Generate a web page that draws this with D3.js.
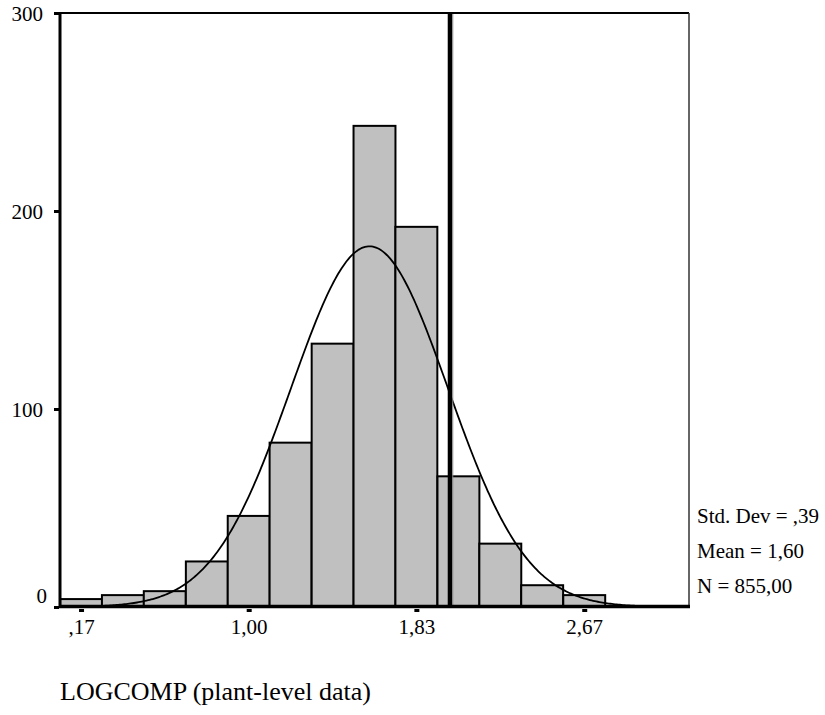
<!DOCTYPE html>
<html>
<head>
<meta charset="utf-8">
<script src="https://cdn.jsdelivr.net/npm/d3@7"></script>
<style>
  html, body { margin: 0; padding: 0; background: #fff; }
  svg { display: block; }
  text { font-family: "Liberation Serif", "Times New Roman", serif; fill: #000; }
</style>
</head>
<body>
<svg id="chart" width="825" height="715"></svg>
<script>
// ---- data ----
const binCenters = [0.167, 0.375, 0.583, 0.792, 1.000, 1.208, 1.417, 1.625, 1.833, 2.042, 2.250, 2.458, 2.667, 2.875, 3.083];
const counts     = [4, 6, 8, 23, 46, 83, 133, 243, 192, 66, 32, 11, 6, 0, 0];
const binWidth = 0.2083;
const xTickValues = [0.167, 1.000, 1.833, 2.667];
const xTickLabels = [",17", "1,00", "1,83", "2,67"];
const yTickValues = [0, 100, 200, 300];
const yTickLabels = ["0", "100", "200", "300"];
const statLabels = ["Std. Dev = ,39", "Mean = 1,60", "N = 855,00"];
const stats = { mean: 1.60, sd: 0.39, n: 855 };
const refLine = [2.0];
const axisTitle = "LOGCOMP (plant-level data)";

// ---- scales ----
const svg = d3.select("#chart");
const x = d3.scaleLinear().domain([0.0625, 3.1875]).range([60, 689]);
const y = d3.scaleLinear().domain([0, 300]).range([607, 13]);

// bars
svg.append("g").selectAll("rect").data(counts).join("rect")
  .attr("x", (d, i) => x(binCenters[i] - binWidth / 2))
  .attr("width", (d, i) => x(binCenters[i] + binWidth / 2) - x(binCenters[i] - binWidth / 2))
  .attr("y", d => y(d))
  .attr("height", d => y(0) - y(d))
  .attr("fill", "#c0c0c0")
  .attr("stroke", "#000")
  .attr("stroke-width", 2)
  .attr("display", d => d > 0 ? null : "none");

// normal curve
const xs = d3.range(0, 401).map(i => x.domain()[0] + (x.domain()[1] - x.domain()[0]) * i / 400);
const dens = v => stats.n * binWidth / (stats.sd * Math.sqrt(2 * Math.PI)) * Math.exp(-0.5 * Math.pow((v - stats.mean) / stats.sd, 2));
svg.append("path")
  .datum(xs)
  .attr("fill", "none")
  .attr("stroke", "#000")
  .attr("stroke-width", 1.8)
  .attr("d", d3.line().x(d => x(d)).y(d => y(dens(d))));

// reference line
svg.append("g").selectAll("line").data(refLine).join("line")
  .attr("x1", d => x(d)).attr("x2", d => x(d))
  .attr("y1", y(300)).attr("y2", y(0))
  .attr("stroke", "#000").attr("stroke-width", 4.5);
svg.append("g").selectAll("line").data(refLine).join("line")
  .attr("x1", d => x(d) + 2.8).attr("x2", d => x(d) + 2.8)
  .attr("y1", y(300)).attr("y2", y(0))
  .attr("stroke", "#888").attr("stroke-width", 1);

// frame
svg.append("line").attr("x1", 60).attr("x2", 689).attr("y1", 13).attr("y2", 13).attr("stroke", "#000").attr("stroke-width", 2);
svg.append("line").attr("x1", 689).attr("x2", 689).attr("y1", 13).attr("y2", 607).attr("stroke", "#333").attr("stroke-width", 1.5);
svg.append("line").attr("x1", 60).attr("x2", 60).attr("y1", 12).attr("y2", 608).attr("stroke", "#000").attr("stroke-width", 3);
svg.append("line").attr("x1", 59).attr("x2", 690).attr("y1", 606.5).attr("y2", 606.5).attr("stroke", "#000").attr("stroke-width", 3.5);

// y axis
const yAxis = svg.append("g").attr("transform", "translate(59,0)")
  .call(d3.axisLeft(y).tickValues(yTickValues).tickSize(5).tickPadding(10)
    .tickFormat((d, i) => yTickLabels[i]));
yAxis.select(".domain").remove();
yAxis.selectAll(".tick line").attr("stroke", "#000").attr("stroke-width", 3);
yAxis.selectAll(".tick text")
  .attr("font-size", 21)
  .attr("font-family", "Liberation Serif, Times New Roman, serif")
  .attr("x", d => d === 0 ? -12 : -16)
  .attr("dy", d => d === 0 ? "-0.2em" : "0.34em");

// x axis
const xAxis = svg.append("g").attr("transform", "translate(0,609)")
  .call(d3.axisBottom(x).tickValues(xTickValues).tickSize(3)
    .tickFormat((d, i) => xTickLabels[i]));
xAxis.select(".domain").remove();
xAxis.selectAll(".tick line").attr("stroke", "#000").attr("stroke-width", 5);
xAxis.selectAll(".tick text")
  .attr("font-size", 21)
  .attr("font-family", "Liberation Serif, Times New Roman, serif")
  .attr("y", 25).attr("dy", 0);

// stats text
svg.append("g").selectAll("text").data(statLabels).join("text")
  .attr("x", 697)
  .attr("y", (d, i) => 523 + i * 35)
  .attr("font-size", 21)
  .text(d => d);

// axis title
svg.append("text")
  .attr("x", 60).attr("y", 700)
  .attr("font-size", 26)
  .text(axisTitle);
</script>
</body>
</html>
